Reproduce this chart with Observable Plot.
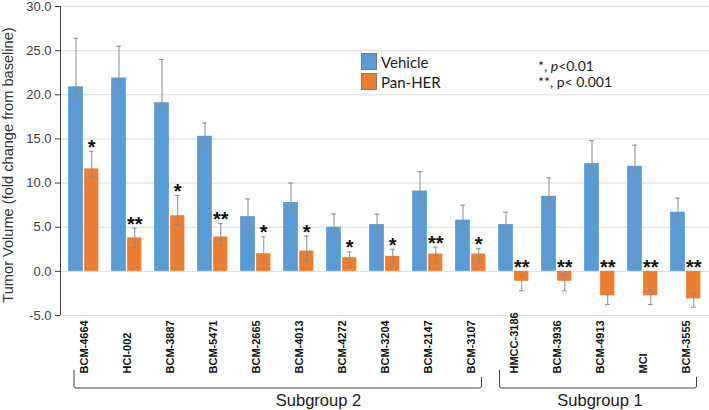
<!DOCTYPE html>
<html><head><meta charset="utf-8">
<script src="https://cdn.jsdelivr.net/npm/d3@7"></script>
<script src="https://cdn.jsdelivr.net/npm/@observablehq/plot@0.6"></script>
<style>
body{margin:0;background:#fff;}
#wrap{position:relative;width:709px;height:410px;}
.leg{position:absolute;font-family:Lato,"Open Sans",sans-serif;font-size:15px;line-height:16px;color:#1a1a1a;white-space:nowrap;}
.note{position:absolute;font-family:Lato,"Open Sans",sans-serif;font-size:14px;line-height:15px;color:#1a1a1a;white-space:nowrap;}
.sw{position:absolute;width:16px;height:17px;box-sizing:border-box;border:1px solid #7a7a7a;}
</style></head><body><div id="wrap"></div>
<script>
// ---- data ----
const categories = ["BCM-4664","HCI-002","BCM-3887","BCM-5471","BCM-2665","BCM-4013","BCM-4272","BCM-3204","BCM-2147","BCM-3107","HMCC-3186","BCM-3936","BCM-4913","MCI","BCM-3555"];
const vehicle      = [20.9, 21.9, 19.1, 15.3, 6.2, 7.8, 5.0, 5.3, 9.1, 5.8, 5.3, 8.5, 12.2, 11.9, 6.7];
const vehicleLow   = [19.8, 20.9, 18.1, 14.3, 5.2, 6.7, 4.0, 4.3, 8.1, 4.9, 4.3, 7.5, 11.2, 10.9, 5.7];
const vehicleHigh  = [26.4, 25.5, 24.0, 16.8, 8.2, 10.0, 6.5, 6.5, 11.3, 7.5, 6.7, 10.6, 14.8, 14.3, 8.3];
const panHer       = [11.6, 3.8, 6.3, 3.9, 2.0, 2.3, 1.55, 1.7, 1.96, 1.96, -1.13, -1.13, -2.77, -2.77, -3.12];
const panHerLow    = [10.7, 2.7, 5.3, 2.9, 1.1, 1.24, 0.64, 0.64, 0.98, 0.98, -2.2, -2.2, -3.75, -3.75, -4.06];
const panHerHigh   = [13.6, 4.9, 8.6, 5.4, 3.9, 4.0, 2.2, 2.5, 2.75, 2.56, -0.45, -0.38, -2.6, -2.07, -2.5];
const significance = ["*","**","*","**","*","*","*","*","**","*","**","**","**","**","**"];
const yTicks = [-5, 0, 5, 10, 15, 20, 25, 30];
const seriesNames = ["Vehicle", "Pan-HER"];
const pNotes = ["*, ", "**, p< 0.001"];
const subgroups = [
  {name: "Subgroup 2", first: "BCM-4664", last: "BCM-3107"},
  {name: "Subgroup 1", first: "HMCC-3186", last: "BCM-3555"}
];
const yLabel = "Tumor Volume (fold change from baseline)";

// ---- build ----
const data = categories.map((c, i) => ({
  cat: c, v: vehicle[i], vLo: vehicleLow[i], vHi: vehicleHigh[i],
  p: panHer[i], pLo: panHerLow[i], pHi: panHerHigh[i], sig: significance[i]
}));

const W = 709, H = 410, mL = 60, mR = 0, mT = 6, mB = 95;
const bw = (W - mL - mR) / categories.length;
const half = bw / 2;
const BLUE = "#5B9BD5", ORANGE = "#ED7D31", ERR = "#8a8a8a";
const dxBlue = -8, dxOrange = 7.75;

const chart = Plot.plot({
  width: W, height: H,
  marginLeft: mL, marginRight: mR, marginTop: mT, marginBottom: mB,
  style: {fontFamily: "Liberation Sans, Arial, sans-serif", fontSize: "13px", color: "#404040", background: "white"},
  x: {domain: categories, type: "band", padding: 0, axis: null},
  y: {domain: [-5, 30]},
  marks: [
    Plot.gridY(yTicks, {stroke: "#dcdcdc", strokeOpacity: 1}),
    Plot.axisY(yTicks, {tickFormat: d => d.toFixed(1), tickSize: 5, tickPadding: 4, label: null, fontSize: 13}),
    Plot.text([yLabel], {frameAnchor: "left", text: d => d, rotate: -90, dx: -52, dy: 4, textAnchor: "middle", lineAnchor: "middle", fontSize: 14.6, fill: "#333"}),
    Plot.barY(data, {x: "cat", y1: 0, y2: "v", fill: BLUE, insetLeft: half - 15.5, insetRight: half + 0.5}),
    Plot.barY(data, {x: "cat", y1: 0, y2: "p", fill: ORANGE, insetLeft: half + 0.5, insetRight: half - 15}),
    Plot.ruleX(data, {x: "cat", y1: "vLo", y2: "vHi", dx: dxBlue, stroke: ERR}),
    Plot.tickY(data, {x: "cat", y: "vHi", dx: dxBlue, insetLeft: half - 2.5, insetRight: half - 2.5, stroke: ERR}),
    Plot.tickY(data, {x: "cat", y: "vLo", dx: dxBlue, insetLeft: half - 2.5, insetRight: half - 2.5, stroke: ERR}),
    Plot.ruleX(data, {x: "cat", y1: "pLo", y2: "pHi", dx: dxOrange, stroke: ERR}),
    Plot.tickY(data, {x: "cat", y: "pHi", dx: dxOrange, insetLeft: half - 2.5, insetRight: half - 2.5, stroke: ERR}),
    Plot.tickY(data, {x: "cat", y: "pLo", dx: dxOrange, insetLeft: half - 2.5, insetRight: half - 2.5, stroke: ERR}),
    Plot.text(data, {x: "cat", y: d => Math.max(d.pHi, 0), text: "sig", dx: dxOrange, dy: 2.5, lineAnchor: "bottom", fontSize: 20, fontWeight: "bold", fill: "#111"}),
    Plot.text(categories, {x: d => d, text: d => d, frameAnchor: "bottom", dy: 58, rotate: -90, textAnchor: "start", lineAnchor: "middle", fontWeight: "bold", fontSize: 11, fill: "#111"})
  ]
});

const wrap = document.getElementById("wrap");
wrap.appendChild(chart);

// axis line and subgroup brackets drawn through the plot's scales
const xs = chart.scale("x"), ys = chart.scale("y");
const cx = c => xs.apply(c) + xs.bandwidth / 2;
const svg = d3.select(chart);
svg.append("line").attr("x1", mL + 0.5).attr("x2", mL + 0.5)
  .attr("y1", ys.apply(30)).attr("y2", ys.apply(-5)).attr("stroke", "#404040");

const bracketSpecs = [{l: -9.5, r: 11, frac: 0.6}, {l: -14, r: 11, frac: 0.51}];
subgroups.forEach((g, i) => {
  const s = bracketSpecs[i];
  const x1 = cx(g.first) + s.l, x2 = cx(g.last) + s.r;
  svg.append("path")
    .attr("d", `M${x1},370 L${x1},386 Q${x1},388 ${x1 + 2},388 L${x2 - 2},388 Q${x2},388 ${x2},386 L${x2},377`)
    .attr("fill", "none").attr("stroke", "#404040").attr("stroke-width", 1);
  svg.append("text").attr("x", x1 + (x2 - x1) * s.frac).attr("y", 406)
    .attr("text-anchor", "middle").attr("font-family", "Liberation Sans, Arial, sans-serif")
    .attr("font-size", 16.5).attr("fill", "#1a1a1a").text(g.name);
});

// legend and p-value notes
const colors = [BLUE, ORANGE];
seriesNames.forEach((n, i) => {
  const sw = document.createElement("div");
  sw.className = "sw"; sw.style.left = "361px"; sw.style.top = (53 + 20 * i) + "px"; sw.style.background = colors[i];
  wrap.appendChild(sw);
  const t = document.createElement("div");
  t.className = "leg"; t.style.left = "381px"; t.style.top = (53.5 + 20.5 * i) + "px"; t.textContent = n;
  wrap.appendChild(t);
});
const n1 = document.createElement("div");
n1.className = "note"; n1.style.left = "538px"; n1.style.top = "57.5px";
n1.innerHTML = pNotes[0] + "<i>p</i>&lt;0.01";
wrap.appendChild(n1);
const n2 = document.createElement("div");
n2.className = "note"; n2.style.left = "538px"; n2.style.top = "73.5px";
n2.textContent = pNotes[1];
wrap.appendChild(n2);
</script></body></html>
